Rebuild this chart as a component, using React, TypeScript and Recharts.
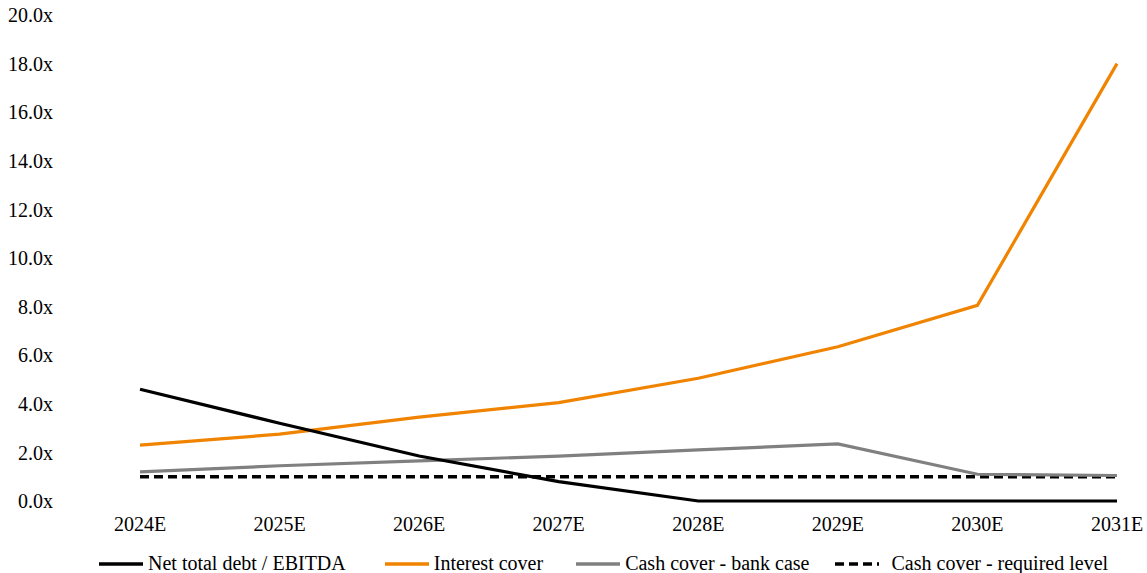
import { CartesianGrid, Legend, Line, LineChart, XAxis, YAxis } from "recharts";

const years = ["2024E", "2025E", "2026E", "2027E", "2028E", "2029E", "2030E", "2031E"];
const netDebtToEbitda = [4.6, 3.2, 1.85, 0.8, 0, 0, 0, 0];
const interestCover = [2.3, 2.75, 3.45, 4.05, 5.05, 6.35, 8.05, 18.0];
const cashCoverBank = [1.2, 1.45, 1.65, 1.85, 2.1, 2.35, 1.1, 1.05];
const cashCoverRequired = [1.0, 1.0, 1.0, 1.0, 1.0, 1.0, 1.0, 1.0];
const yTicks = [0, 2, 4, 6, 8, 10, 12, 14, 16, 18, 20];

const data = years.map((year, i) => ({
  year,
  netDebt: netDebtToEbitda[i],
  interest: interestCover[i],
  cashBank: cashCoverBank[i],
  cashRequired: cashCoverRequired[i],
}));

const font = "'Liberation Serif', 'Times New Roman', serif";

const legendItems = [
  { label: "Net total debt / EBITDA", color: "#000000", dash: undefined as string | undefined, gapBefore: 0 },
  { label: "Interest cover", color: "#f08300", dash: undefined, gapBefore: 38 },
  { label: "Cash cover - bank case", color: "#808080", dash: undefined, gapBefore: 32 },
  { label: "Cash cover - required level", color: "#000000", dash: "9 5", gapBefore: 24 },
];

function CoverLegend() {
  return (
    <div
      style={{
        display: "flex",
        alignItems: "center",
        paddingLeft: 98,
        fontFamily: font,
        fontSize: 20,
        color: "#000",
        whiteSpace: "nowrap",
        width: 1147,
        boxSizing: "border-box",
      }}
    >
      {legendItems.map((item) => (
        <div key={item.label} style={{ display: "flex", alignItems: "center", marginLeft: item.gapBefore }}>
          <svg width={46} height={8} style={{ marginRight: item.dash ? 12 : 4 }}>
            <line x1={1} y1={4} x2={45} y2={4} stroke={item.color} strokeWidth={3.4} strokeDasharray={item.dash} />
          </svg>
          <span>{item.label}</span>
        </div>
      ))}
    </div>
  );
}

export default function App() {
  return (
    <div style={{ position: "absolute", left: 0, top: 0, background: "#fff" }}>
      <LineChart width={1147} height={573} data={data} margin={{ top: 15, right: 30, bottom: 0, left: 0 }}>
        <CartesianGrid horizontal={false} vertical={false} />
        <XAxis
          dataKey="year"
          axisLine={false}
          tickLine={false}
          tickSize={0}
          tickMargin={16}
          height={40}
          interval={0}
          tick={{ fill: "#000", fontSize: 20, fontFamily: font }}
        />
        <YAxis
          domain={[0, 20]}
          ticks={yTicks}
          axisLine={false}
          tickLine={false}
          tickSize={0}
          tickMargin={87}
          width={140}
          tickFormatter={(v: number) => `${v.toFixed(1)}x`}
          tick={{ fill: "#000", fontSize: 20, fontFamily: font }}
        />
        <Legend
          verticalAlign="bottom"
          height={32}
          wrapperStyle={{ left: 0, width: 1147, bottom: -11 }}
          content={() => <CoverLegend />}
        />
        <Line dataKey="cashRequired" name="Cash cover - required level" stroke="#000" strokeWidth={3.4} strokeDasharray="9 5" dot={false} isAnimationActive={false} />
        <Line dataKey="cashBank" name="Cash cover - bank case" stroke="#808080" strokeWidth={3.2} dot={false} isAnimationActive={false} />
        <Line dataKey="interest" name="Interest cover" stroke="#f08300" strokeWidth={3.2} dot={false} isAnimationActive={false} />
        <Line dataKey="netDebt" name="Net total debt / EBITDA" stroke="#000" strokeWidth={3.2} dot={false} isAnimationActive={false} />
      </LineChart>
    </div>
  );
}
